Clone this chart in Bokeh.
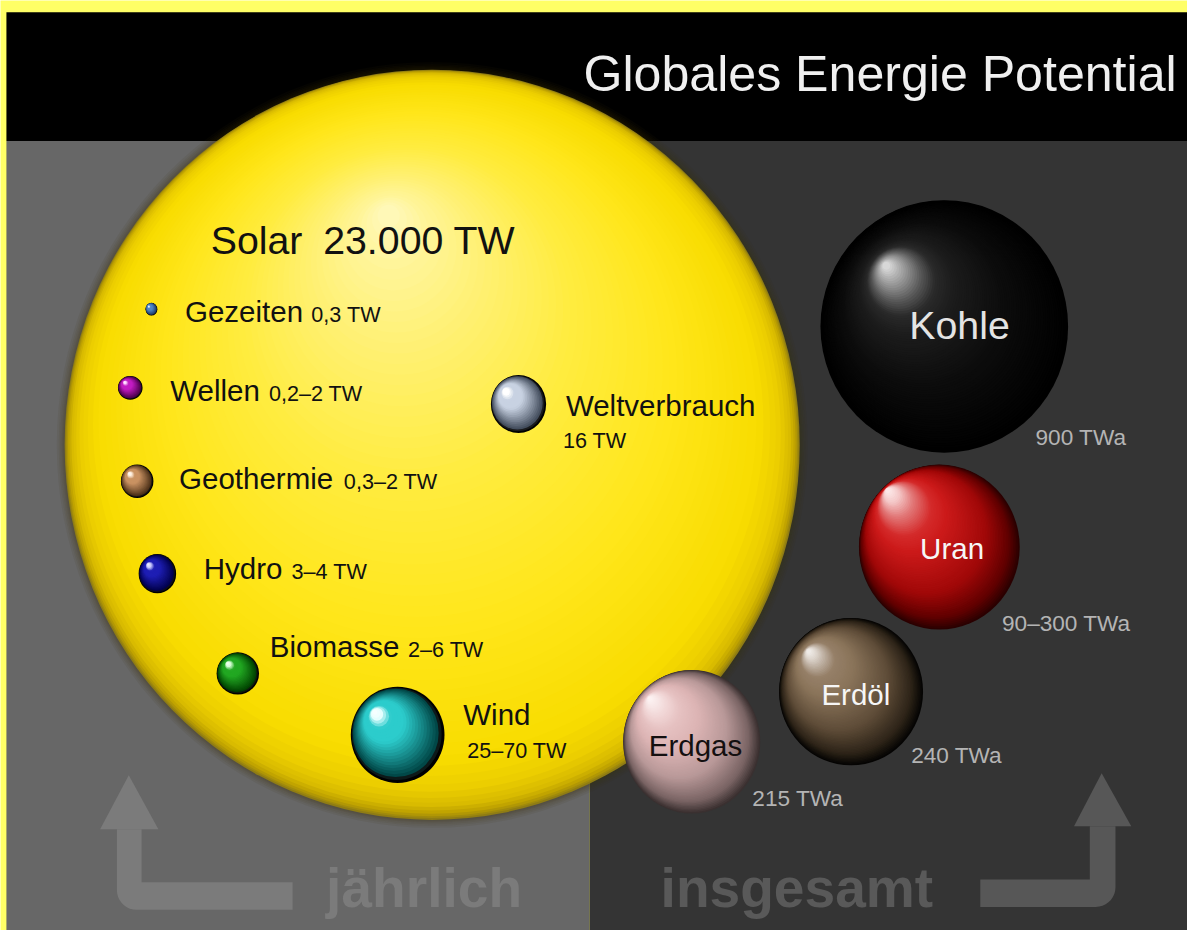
import numpy as np
from bokeh.plotting import figure
from bokeh.models import Range1d, ColumnDataSource
from bokeh.core.properties import value
from bokeh.embed import file_html
from bokeh.resources import INLINE

# ---------------- data ----------------
title = "Globales Energie Potential"
annual_names = ["Solar", "Gezeiten", "Wellen", "Geothermie", "Hydro", "Biomasse", "Wind", "Weltverbrauch"]
annual_values = ["23.000 TW", "0,3 TW", "0,2–2 TW", "0,3–2 TW", "3–4 TW", "2–6 TW", "25–70 TW", "16 TW"]
total_names = ["Kohle", "Uran", "Erdöl", "Erdgas"]
total_values = ["900 TWa", "90–300 TWa", "240 TWa", "215 TWa"]
panel_labels = ["jährlich", "insgesamt"]

# ---------------- layout (reference pixel coordinates) ----------------
annual_cx = [437.5, 153, 131.5, 138.5, 159, 240.5, 402.5, 525]
annual_cy = [452, 314, 394, 489, 583, 684.5, 747, 410.5]
annual_w = [745, 12, 25, 33, 38, 43, 95, 56]
annual_h = [763, 13, 24, 34, 40, 43, 98, 59]
annual_name_xy = [(213, 258), (187, 327), (172, 407), (181, 497), (206, 588), (273, 668), (469, 737), (573, 422)]
annual_val_xy = [(327, 258), (315, 327), (272, 407), (348, 497), (295, 588), (413, 668), (473, 771), (570, 455)]

total_cx = [956.5, 951.5, 862, 700.5]
total_cy = [331.5, 556, 703, 754]
total_w = [251, 163, 146, 139]
total_h = [257, 168, 150, 146]
total_name_xy = [(921, 344), (932, 568), (832, 716), (657, 768)]
total_val_xy = [(1049, 453), (1015, 642), (923, 776), (762, 820)]

# ---------------- styles ----------------
YELLOW = "#ffff66"
FONT = value("Liberation Sans")
PW, PH = 1187, 930
REF_W, REF_H = 1203, 946
FS = PH / REF_H
MID = 0.347  # baseline offset below the text middle, in em


def fpx(s):
    return "%.1fpx" % (s * FS)


small_colors = {  # edge, base, light
    "Gezeiten": ("#1c3a66", "#4f86c6", "#d8ecff"),
    "Wellen": ("#4a004a", "#c21cc2", "#ffd6ff"),
    "Geothermie": ("#4a3018", "#c99262", "#fff0e0"),
    "Hydro": ("#00004a", "#1e1eb4", "#d0d0ff"),
    "Biomasse": ("#004000", "#22a822", "#d8ffd8"),
    "Wind": ("#004444", "#2ccccc", "#e8ffff"),
    "Weltverbrauch": ("#404a5a", "#c8d2e2", "#ffffff"),
}

big_styles = {
    "Kohle": ((896, 268), [(0, "#000000"), (0.35, "#0c0c0c"), (0.62, "#1c1c1c"), (0.72, "#2a2a2a"),
                           (0.8, "#5a5a5a"), (0.9, "#a4a4a4"), (1, "#eeeeee")]),
    "Uran": ((898, 497), [(0, "#2a0000"), (0.08, "#600000"), (0.25, "#a00808"), (0.55, "#cc1a1a"),
                          (0.66, "#d42a2a"), (0.8, "#e27a7a"), (0.9, "#f4c8c8"), (1, "#fff4f4")]),
    "Erdöl": ((818, 661), [(0, "#050403"), (0.1, "#2e2418"), (0.3, "#5e4c38"), (0.6, "#8a745a"),
                           (0.76, "#968068"), (0.83, "#b4a494"), (0.92, "#ded6ce"), (1, "#f8f6f4")]),
    "Erdgas": ((657, 709), [(0, "#3a3030"), (0.1, "#7a6464"), (0.3, "#b89898"), (0.55, "#dcb4b4"),
                            (0.72, "#e6c2c2"), (0.82, "#f0d4d4"), (0.92, "#f8e8e8"), (1, "#fff6f6")]),
}

sun_focus = (392, 212)
sun_stops = [(0, "#8f7c14"), (0.008, "#bca000"), (0.02, "#d8ba00"), (0.045, "#ecce00"),
             (0.09, "#f8dc00"), (0.3, "#ffe61a"), (0.55, "#ffec40"), (0.75, "#fff070"),
             (0.9, "#fff59a"), (1, "#fff9c4")]


def hex2rgb(h):
    h = h.lstrip("#")
    return np.array([int(h[i:i + 2], 16) for i in (0, 2, 4)], dtype=float)


def rgb2hex(c):
    return "#%02x%02x%02x" % tuple(int(round(min(255, max(0, v)))) for v in c)


def mix(c1, c2, u):
    return rgb2hex(hex2rgb(c1) * (1 - u) + hex2rgb(c2) * u)


def grad(stops, t):
    for i in range(len(stops) - 1):
        t0, c0 = stops[i]
        t1, c1 = stops[i + 1]
        if t <= t1:
            u = 0 if t1 == t0 else (t - t0) / (t1 - t0)
            return mix(c0, c1, u)
    return stops[-1][1]


layers = dict(x=[], y=[], w=[], h=[], c=[], a=[])


def add(x, y, w, h, c, a=1.0):
    layers["x"].append(x)
    layers["y"].append(y)
    layers["w"].append(w)
    layers["h"].append(h)
    layers["c"].append(c)
    layers["a"].append(a)


def sphere(cx, cy, w, h, fx, fy, stops, ts):
    for t in ts:
        add(cx + (fx - cx) * t, cy + (fy - cy) * t, w * (1 - t), h * (1 - t), grad(stops, t))


# ---------------- figure ----------------
p = figure(width=PW, height=PH, x_range=Range1d(0, REF_W), y_range=Range1d(REF_H, 0),
           output_backend="svg", toolbar_location=None, min_border=0,
           x_axis_location=None, y_axis_location=None,
           background_fill_color=YELLOW, border_fill_color=YELLOW, outline_line_color=None)
p.grid.visible = False

# panels
p.quad(left=[6, 6, 597], right=[1210, 597, 1210], top=[12, 143, 143], bottom=[143, 950, 950],
       fill_color=["#000000", "#676767", "#343434"], line_color=None)

# arrows
arc = np.linspace(0, np.pi / 2, 10)
lx = [118, 118] + list(138 - 20 * np.cos(arc)) + [296, 296, 143, 143]
ly = [843, 905] + list(905 + 20 * np.sin(arc)) + [925, 897, 897, 843]
rx = [1104, 1104, 993, 993] + list(1110 + 20 * np.sin(arc)) + [1130]
ry = [840, 894, 894, 922] + list(902 + 20 * np.cos(arc)) + [840]
p.patches(xs=[[101, 130, 160], lx, [1088, 1116, 1146], rx],
          ys=[[843, 788, 843], ly, [840, 786, 840], ry],
          fill_color=["#7b7b7b", "#7b7b7b", "#575757", "#575757"], line_color=None)

# sun halo + body
R_w, R_h = annual_w[0], annual_h[0]
for d in [16, 12, 9, 6, 4, 2]:
    add(annual_cx[0], annual_cy[0], R_w + d, R_h + d, "#3a3410", 0.08)
sun_ts = [0, 0.003, 0.006, 0.01, 0.015, 0.021, 0.028, 0.036, 0.046, 0.058, 0.072, 0.088, 0.105] + \
    list(np.linspace(0.125, 0.97, 50))
sphere(annual_cx[0], annual_cy[0], R_w, R_h, sun_focus[0], sun_focus[1], sun_stops, sun_ts)

# small annual spheres
small_ts = np.linspace(0, 0.95, 24)
for i in range(1, len(annual_names)):
    edge, base, light = small_colors[annual_names[i]]
    stops = [(0, "#000000"), (0.035, "#101010"), (0.07, edge), (0.3, mix(edge, base, 0.5)),
             (0.55, base), (0.74, base), (0.87, light), (1, "#ffffff")]
    cx, cy = annual_cx[i], annual_cy[i]
    r = (annual_w[i] + annual_h[i]) / 4
    sphere(cx, cy, annual_w[i], annual_h[i], cx - 0.5 * r, cy - 0.5 * r, stops, small_ts)

# total (fossil / nuclear) spheres
big_ts = np.linspace(0, 0.97, 80)
for i, name in enumerate(total_names):
    (fx, fy), stops = big_styles[name]
    sphere(total_cx[i], total_cy[i], total_w[i], total_h[i], fx, fy, stops, big_ts)

p.ellipse(x="x", y="y", width="w", height="h", fill_color="c", fill_alpha="a",
          line_color=None, source=ColumnDataSource(layers))

# ---------------- texts ----------------
T = dict(x=[], y=[], t=[], fs=[], c=[], st=[], al=[])


def txt(x, base_y, t, fs, c, st="normal", al="left"):
    T["x"].append(x)
    T["y"].append(base_y - MID * fs)
    T["t"].append(t)
    T["fs"].append(fpx(fs))
    T["c"].append(c)
    T["st"].append(st)
    T["al"].append(al)


txt(1192, 92, title, 51, "#f0f0f0", al="right")
for i, name in enumerate(annual_names):
    big = i == 0
    txt(annual_name_xy[i][0], annual_name_xy[i][1], name, 40 if big else 30, "#111111")
    txt(annual_val_xy[i][0], annual_val_xy[i][1], annual_values[i], 40 if big else 22, "#111111")
name_cols = ["#e4e4e4", "#f6f6f6", "#f6f6f6", "#141010"]
for i, name in enumerate(total_names):
    txt(total_name_xy[i][0], total_name_xy[i][1], name, 40 if i == 0 else 30, name_cols[i])
    txt(total_val_xy[i][0], total_val_xy[i][1], total_values[i], 23, "#b4b4b4")
txt(330, 922, panel_labels[0], 56, "#7b7b7b", st="bold")
txt(669, 922, panel_labels[1], 56, "#595959", st="bold")

p.text(x="x", y="y", text="t", text_font_size="fs", text_color="c", text_font_style="st",
       text_align="al", text_baseline="middle", text_font=FONT, source=ColumnDataSource(T))

open("out.html", "w").write(file_html(p, INLINE))
